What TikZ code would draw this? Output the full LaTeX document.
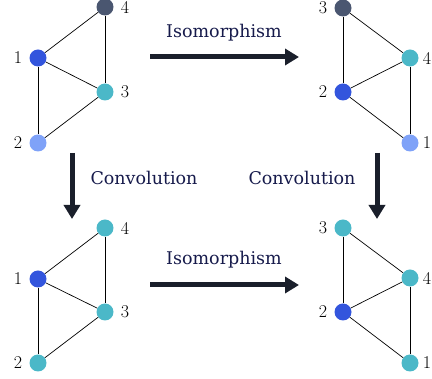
\documentclass[tikz,border=0pt]{standalone}
\usepackage{fontspec}
\usepackage{xcolor}
\usetikzlibrary{arrows.meta, positioning}
\newfontfamily\capfont{DejaVu Serif}

\definecolor{nodeA}{HTML}{3355DD}
\definecolor{nodeB}{HTML}{7FA2F8}
\definecolor{nodeC}{HTML}{4BB8C8}
\definecolor{nodeD}{HTML}{4A5670}
\definecolor{inkdark}{HTML}{1A1F2B}

\begin{document}
\begin{tikzpicture}[x=1pt, y=-1pt,
            vert/.style={circle, minimum size=17pt, inner sep=0pt},
            edge/.style={black, line width=0.7pt},
            bigarrow/.style={-{Triangle[length=14pt, width=16pt]}, line width=5pt, inkdark},
            textlabel/.style={font=\capfont\fontsize{17.5}{20}\selectfont, text=inkdark!85!blue},
            every label/.style={font=\fontsize{18}{20}\selectfont, inner sep=1pt},
            label distance=6pt,
            rlab/.style={label={[label distance=3pt]right:#1}}]

            \useasboundingbox (0,0) rectangle (432,379);

            % top left graph
            \node[vert, fill=nodeD, label=right:4] (a4) at (105,7) {};
            \node[vert, fill=nodeA, label=left:1] (a1) at (38,58) {};
            \node[vert, fill=nodeC, label=right:3] (a3) at (105,92) {};
            \node[vert, fill=nodeB, label=left:2] (a2) at (38,143) {};
            \draw[edge] (a1) -- (a4);
            \draw[edge] (a1) -- (a3);
            \draw[edge] (a1) -- (a2);
            \draw[edge] (a4) -- (a3);
            \draw[edge] (a2) -- (a3);

            % top right graph
            \node[vert, fill=nodeD, label=left:3] (b3) at (343,8) {};
            \node[vert, fill=nodeC, rlab=4] (b4) at (410,58) {};
            \node[vert, fill=nodeA, label=left:2] (b2) at (343,92) {};
            \node[vert, fill=nodeB, rlab=1] (b1) at (410,143) {};
            \draw[edge] (b3) -- (b4);
            \draw[edge] (b3) -- (b2);
            \draw[edge] (b2) -- (b4);
            \draw[edge] (b2) -- (b1);
            \draw[edge] (b4) -- (b1);

            % bottom left graph
            \node[vert, fill=nodeC, label=right:4] (c4) at (105,228) {};
            \node[vert, fill=nodeA, label=left:1] (c1) at (38,279) {};
            \node[vert, fill=nodeC, label=right:3] (c3) at (105,312) {};
            \node[vert, fill=nodeC, label=left:2] (c2) at (38,363) {};
            \draw[edge] (c1) -- (c4);
            \draw[edge] (c1) -- (c3);
            \draw[edge] (c1) -- (c2);
            \draw[edge] (c4) -- (c3);
            \draw[edge] (c2) -- (c3);

            % bottom right graph
            \node[vert, fill=nodeC, label=left:3] (d3) at (343,228) {};
            \node[vert, fill=nodeC, rlab=4] (d4) at (410,278) {};
            \node[vert, fill=nodeA, label=left:2] (d2) at (343,312) {};
            \node[vert, fill=nodeC, rlab=1] (d1) at (410,363) {};
            \draw[edge] (d3) -- (d4);
            \draw[edge] (d3) -- (d2);
            \draw[edge] (d2) -- (d4);
            \draw[edge] (d2) -- (d1);
            \draw[edge] (d4) -- (d1);

            % arrows between graphs
            \coordinate (isoTopL) at (150,57);
            \coordinate (isoTopR) at (299,57);
            \coordinate (isoBotL) at (150,285);
            \coordinate (isoBotR) at (299,285);
            \coordinate (convLT) at (72,153);
            \coordinate (convLB) at (72,219);
            \coordinate (convRT) at (377,153);
            \coordinate (convRB) at (377,219);

            \draw[bigarrow] (isoTopL) -- (isoTopR);
            \draw[bigarrow] (isoBotL) -- (isoBotR);
            \draw[bigarrow] (convLT) -- (convLB);
            \draw[bigarrow] (convRT) -- (convRB);

            \node[textlabel] (isoTop) at (224,33) {Isomorphism};
            \node[textlabel] (isoBot) at (224,260) {Isomorphism};
            \node[textlabel] (convL) at (144,178) {Convolution};
            \node[textlabel] (convR) at (302,178) {Convolution};
        \end{tikzpicture}
\end{document}
